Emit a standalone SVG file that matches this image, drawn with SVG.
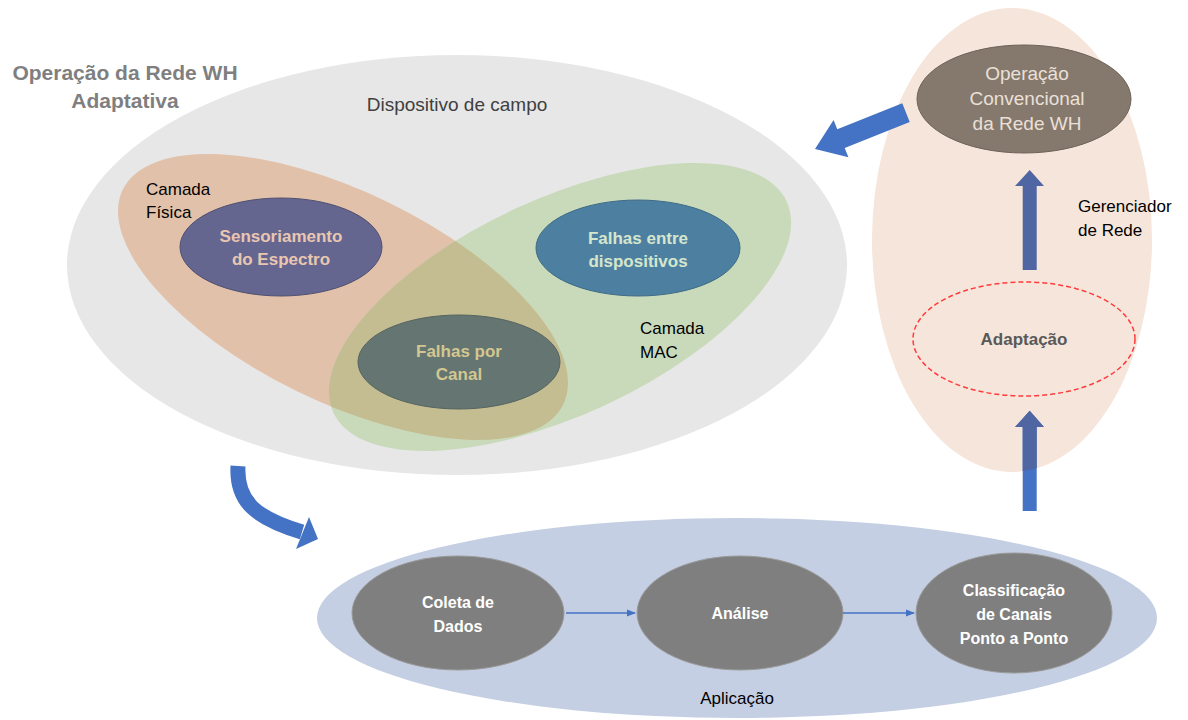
<svg xmlns="http://www.w3.org/2000/svg" width="1188" height="720" viewBox="0 0 1188 720">
<defs>
<style>
text{font-family:"Liberation Sans","Open Sans",Arial,sans-serif}
.t{font-size:17px;fill:#000000}
.tb{font-size:16px;font-weight:bold;text-anchor:middle}
.tb17{font-size:17px;font-weight:bold;text-anchor:middle}
.w{fill:#ffffff}
.g{fill:#7f7f7f;stroke:#9a9a9a;stroke-width:1}
.blk{fill:#4472c4}
.blkd{fill:#4f66a3}
</style>
<marker id="ah" viewBox="0 0 10 10" refX="9" refY="5" markerWidth="7" markerHeight="7" orient="auto"><path d="M0,1 L10,5 L0,9 z" fill="#4472c4"/></marker>
<clipPath id="greenClip"><ellipse cx="560" cy="307" rx="250" ry="108" transform="rotate(-25 560 307)"/></clipPath>
<clipPath id="peachClip"><ellipse cx="1012" cy="240" rx="140" ry="232"/></clipPath>
</defs>
<rect width="1188" height="720" fill="#ffffff"/>

<g id="dispositivo">
<ellipse cx="457" cy="265" rx="390" ry="210" fill="#e7e7e7"/>
<text x="457" y="111" font-size="19" fill="#404040" text-anchor="middle">Dispositivo de campo</text>
</g>
<g id="camada-fisica">
<ellipse cx="343" cy="297" rx="245" ry="105" transform="rotate(26 343 297)" fill="#e2c1aa"/>
<text class="t" x="146" y="195">Camada</text>
<text class="t" x="146" y="218">Física</text>
</g>
<g id="camada-mac">
<ellipse cx="560" cy="307" rx="250" ry="108" transform="rotate(-25 560 307)" fill="#c9dabb"/>
<g clip-path="url(#greenClip)">
<ellipse cx="343" cy="297" rx="245" ry="105" transform="rotate(26 343 297)" fill="#c5bd92"/>
</g>
<text class="t" x="640" y="334">Camada</text>
<text class="t" x="640" y="358">MAC</text>
</g>
<g id="sensoriamento">
<ellipse cx="281" cy="247" rx="101" ry="49" fill="#65668f" stroke="#4f5070" stroke-width="1"/>
<text class="tb17" x="281" y="242" fill="#eac6b1">Sensoriamento</text>
<text class="tb17" x="281" y="265" fill="#eac6b1">do Espectro</text>
</g>
<g id="falhas-entre">
<ellipse cx="638" cy="248" rx="102" ry="48" fill="#4d80a0" stroke="#3e6a86" stroke-width="1"/>
<text class="tb17" x="638" y="244" fill="#d6e6cd">Falhas entre</text>
<text class="tb17" x="638" y="267" fill="#d6e6cd">dispositivos</text>
</g>
<g id="falhas-canal">
<ellipse cx="459" cy="362" rx="101" ry="47" fill="#657672" stroke="#55625f" stroke-width="1"/>
<text class="tb17" x="459" y="357" fill="#d4c690">Falhas por</text>
<text class="tb17" x="459" y="380" fill="#d4c690">Canal</text>
</g>
<g id="titulo">
<text x="125" y="80" font-size="21" font-weight="bold" fill="#7f7f7f" text-anchor="middle">Operação da Rede WH</text>
<text x="125" y="108" font-size="21" font-weight="bold" fill="#7f7f7f" text-anchor="middle">Adaptativa</text>
</g>

<g id="gerenciador">
<ellipse cx="1012" cy="240" rx="140" ry="232" fill="#f6e5da"/>
<text class="t" x="1078" y="212">Gerenciador</text>
<text class="t" x="1078" y="236">de Rede</text>
</g>
<g id="operacao-convencional">
<ellipse cx="1024" cy="99" rx="107" ry="54" fill="#85786d" stroke="#6e6259" stroke-width="1"/>
<text x="1027" y="80" font-size="19" text-anchor="middle" fill="#eae0d8">Operação</text>
<text x="1027" y="105" font-size="19" text-anchor="middle" fill="#eae0d8">Convencional</text>
<text x="1027" y="130" font-size="19" text-anchor="middle" fill="#eae0d8">da Rede WH</text>
</g>
<g id="adaptacao">
<ellipse cx="1024" cy="339" rx="111" ry="57" fill="none" stroke="#ff3b3b" stroke-width="1.5" stroke-dasharray="5,3"/>
<text class="tb17" x="1024" y="345" fill="#595959">Adaptação</text>
</g>

<g id="aplicacao">
<ellipse cx="737" cy="618" rx="420" ry="100" fill="#c5cfe3"/>
<text class="t" x="737" y="704" text-anchor="middle">Aplicação</text>
</g>
<g id="coleta">
<ellipse class="g" cx="458" cy="613" rx="106" ry="57"/>
<text class="tb w" x="458" y="608">Coleta de</text>
<text class="tb w" x="458" y="632">Dados</text>
</g>
<g id="analise">
<ellipse class="g" cx="740" cy="613" rx="103" ry="57"/>
<text class="tb w" x="740" y="619">Análise</text>
</g>
<g id="classificacao">
<ellipse class="g" cx="1014" cy="613" rx="98" ry="60"/>
<text class="tb w" x="1014" y="596">Classificação</text>
<text class="tb w" x="1014" y="620">de Canais</text>
<text class="tb w" x="1014" y="644">Ponto a Ponto</text>
</g>

<g id="connectors">
<path class="blkd" d="M1022.7,270 L1022.7,186 L1015,186 L1029.7,170 L1044,186 L1036.7,186 L1036.7,270 Z"/>
<path class="blk" d="M1022.7,511 L1022.7,427 L1015,427 L1029.7,410.7 L1044,427 L1036.7,427 L1036.7,511 Z"/>
<path class="blkd" clip-path="url(#peachClip)" d="M1022.7,511 L1022.7,427 L1015,427 L1029.7,410.7 L1044,427 L1036.7,427 L1036.7,511 Z"/>
<path class="blk" transform="translate(815,149) rotate(-21.8)" d="M0,0 L28,-20 L28,-10 L98,-10 L98,10 L28,10 L28,20 Z"/>
<path d="M238,466 C236,502 256,518 302,532" fill="none" stroke="#4472c4" stroke-width="15"/>
<path class="blk" d="M318,539 L309,517 L296,549 Z"/>
<line x1="566" y1="613" x2="635" y2="613" stroke="#4472c4" stroke-width="1.3" marker-end="url(#ah)"/>
<line x1="843" y1="613" x2="914" y2="613" stroke="#4472c4" stroke-width="1.3" marker-end="url(#ah)"/>
</g>
</svg>
